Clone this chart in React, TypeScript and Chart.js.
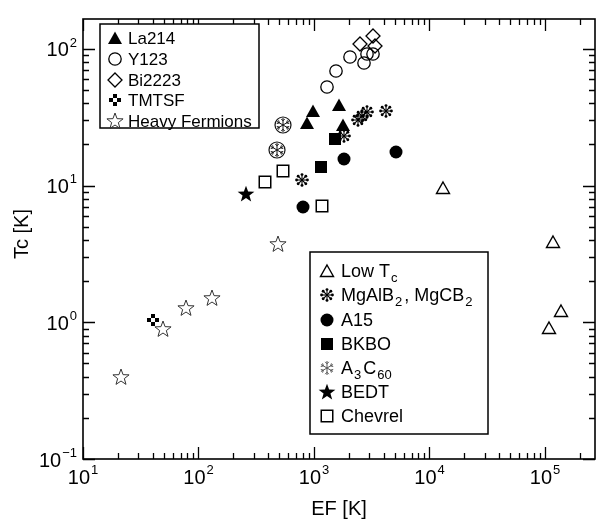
import React, { useEffect, useRef } from "react";
import { Chart, registerables } from "chart.js";

Chart.register(...registerables);

// ---------- data (EF [K], Tc [K]) ----------
const la214EF = [975, 875, 1656, 1772];
const la214Tc = [34.9, 28.7, 38.6, 27.9];

const y123EF = [1288, 1550, 2050, 2710, 2860, 3220];
const y123Tc = [53.1, 69.5, 86.7, 78.6, 91.5, 91.5];

const bi2223EF = [2500, 3220, 3375];
const bi2223Tc = [108.7, 125, 105];

const tmtsfEF = [40.6];
const tmtsfTc = [1.04];

const heavyEF = [21.2, 49, 78, 131.6, 487];
const heavyTc = [0.395, 0.889, 1.28, 1.51, 3.71];

const lowTcEF = [13000, 118000, 137700, 109000];
const lowTcTc = [9.62, 3.86, 1.21, 0.915];

const mgb2EF = [787, 1820, 2404, 2605, 2877, 4200];
const mgb2Tc = [11.06, 23.0, 30.3, 32.4, 34.7, 35.4];

const a15EF = [808, 1820, 5130];
const a15Tc = [7.0, 15.7, 17.7];

const bkboEF = [1150, 1520];
const bkboTc = [13.6, 21.9];

const a3c60EF = [542, 481];
const a3c60Tc = [27.9, 18.3];

const bedtEF = [256];
const bedtTc = [8.74];

const chevrelEF = [376.6, 542, 1173];
const chevrelTc = [10.57, 12.9, 7.06];

const xExponents = [1, 2, 3, 4, 5];
const yExponents = [-1, 0, 1, 2];
const xTitle = "EF [K]";
const yTitle = "Tc [K]";

const FONT = '"Liberation Sans", Arial, Helvetica, sans-serif';

// ---------- marker images ----------
function mk(w: number, h: number, draw: (c: CanvasRenderingContext2D) => void) {
  const cv = document.createElement("canvas");
  cv.width = w;
  cv.height = h;
  const c = cv.getContext("2d")!;
  draw(c);
  return cv;
}

function starPath(c: CanvasRenderingContext2D, cx: number, cy: number, R: number, r: number) {
  c.beginPath();
  for (let i = 0; i < 10; i++) {
    const rad = i % 2 === 0 ? R : r;
    const a = -Math.PI / 2 + (i * Math.PI) / 5;
    const x = cx + rad * Math.cos(a);
    const y = cy + rad * Math.sin(a);
    if (i === 0) c.moveTo(x, y);
    else c.lineTo(x, y);
  }
  c.closePath();
}

function snowflake(c: CanvasRenderingContext2D, cx: number, cy: number, len: number, color: string) {
  c.strokeStyle = color;
  c.lineWidth = 1;
  for (let i = 0; i < 6; i++) {
    const a = -Math.PI / 2 + (i * Math.PI) / 3;
    c.beginPath();
    c.moveTo(cx, cy);
    c.lineTo(cx + len * Math.cos(a), cy + len * Math.sin(a));
    c.stroke();
    const bx = cx + len * 0.6 * Math.cos(a);
    const by = cy + len * 0.6 * Math.sin(a);
    for (const s of [-1, 1]) {
      const b = a + s * 0.75;
      c.beginPath();
      c.moveTo(bx, by);
      c.lineTo(bx + len * 0.38 * Math.cos(b), by + len * 0.38 * Math.sin(b));
      c.stroke();
    }
  }
}

function buildMarkers() {
  const triFilled = mk(16, 16, (c) => {
    c.beginPath();
    c.moveTo(8, 1.5);
    c.lineTo(15, 14);
    c.lineTo(1, 14);
    c.closePath();
    c.fillStyle = "#000";
    c.fill();
  });
  const circleOpen = mk(16, 16, (c) => {
    c.beginPath();
    c.arc(8, 8, 6.2, 0, Math.PI * 2);
    c.lineWidth = 1.3;
    c.strokeStyle = "#000";
    c.stroke();
  });
  const diamondOpen = mk(18, 18, (c) => {
    c.beginPath();
    c.moveTo(9, 2);
    c.lineTo(16, 9);
    c.lineTo(9, 16);
    c.lineTo(2, 9);
    c.closePath();
    c.lineWidth = 1.3;
    c.strokeStyle = "#000";
    c.stroke();
  });
  const tmtsf = mk(14, 14, (c) => {
    c.fillStyle = "#000";
    c.fillRect(5, 1, 4, 4);
    c.fillRect(1, 5, 4, 4);
    c.fillRect(9, 5, 4, 4);
    c.fillRect(5, 9, 4, 4);
    c.fillStyle = "#fff";
    c.fillRect(5, 5, 4, 4);
  });
  const starOpen = mk(20, 20, (c) => {
    starPath(c, 10, 10.5, 8.5, 3.5);
    c.lineWidth = 1;
    c.strokeStyle = "#333";
    c.stroke();
  });
  const triOpen = mk(16, 16, (c) => {
    c.beginPath();
    c.moveTo(8, 2);
    c.lineTo(14.5, 13.5);
    c.lineTo(1.5, 13.5);
    c.closePath();
    c.lineWidth = 1.4;
    c.strokeStyle = "#000";
    c.stroke();
  });
  const snow = mk(16, 16, (c) => {
    c.strokeStyle = "#000";
    c.fillStyle = "#000";
    c.lineWidth = 1.1;
    for (let i = 0; i < 8; i++) {
      const a = (i * Math.PI) / 4;
      c.beginPath();
      c.moveTo(8, 8);
      c.lineTo(8 + 4.5 * Math.cos(a), 8 + 4.5 * Math.sin(a));
      c.stroke();
      c.beginPath();
      c.arc(8 + 5.4 * Math.cos(a), 8 + 5.4 * Math.sin(a), 1.45, 0, Math.PI * 2);
      c.fill();
    }
  });
  const circleFilled = mk(16, 16, (c) => {
    c.beginPath();
    c.arc(8, 8, 6.5, 0, Math.PI * 2);
    c.fillStyle = "#000";
    c.fill();
  });
  const squareFilled = mk(14, 14, (c) => {
    c.fillStyle = "#000";
    c.fillRect(1, 1, 12, 12);
  });
  const a3c60 = mk(20, 20, (c) => {
    c.strokeStyle = "#111";
    c.lineWidth = 1.2;
    c.beginPath();
    c.arc(10, 10, 8, 0, Math.PI * 2);
    c.stroke();
    snowflake(c, 10, 10, 7, "#111");
  });
  const a3c60Legend = mk(18, 18, (c) => {
    snowflake(c, 9, 9, 7, "#555");
  });
  const starFilled = mk(20, 20, (c) => {
    starPath(c, 10, 10.5, 8.8, 3.6);
    c.fillStyle = "#000";
    c.fill();
  });
  const squareOpen = mk(16, 16, (c) => {
    c.strokeStyle = "#000";
    c.lineWidth = 1.5;
    c.strokeRect(2.25, 2.25, 11.5, 11.5);
  });
  return {
    triFilled, circleOpen, diamondOpen, tmtsf, starOpen, triOpen, snow,
    circleFilled, squareFilled, a3c60, a3c60Legend, starFilled, squareOpen,
  };
}

type Part = [string, boolean?];

function pts(xs: number[], ys: number[]) {
  return xs.map((x, i) => ({ x, y: ys[i] }));
}

export default function App() {
  const ref = useRef<HTMLCanvasElement>(null);

  useEffect(() => {
    const canvas = ref.current!;
    const m = buildMarkers();

    const series: { label: string; xs: number[]; ys: number[]; img: HTMLCanvasElement }[] = [
      { label: "La214", xs: la214EF, ys: la214Tc, img: m.triFilled },
      { label: "Y123", xs: y123EF, ys: y123Tc, img: m.circleOpen },
      { label: "Bi2223", xs: bi2223EF, ys: bi2223Tc, img: m.diamondOpen },
      { label: "TMTSF", xs: tmtsfEF, ys: tmtsfTc, img: m.tmtsf },
      { label: "Heavy Fermions", xs: heavyEF, ys: heavyTc, img: m.starOpen },
      { label: "Low Tc", xs: lowTcEF, ys: lowTcTc, img: m.triOpen },
      { label: "MgAlB2, MgCB2", xs: mgb2EF, ys: mgb2Tc, img: m.snow },
      { label: "A15", xs: a15EF, ys: a15Tc, img: m.circleFilled },
      { label: "BKBO", xs: bkboEF, ys: bkboTc, img: m.squareFilled },
      { label: "A3C60", xs: a3c60EF, ys: a3c60Tc, img: m.a3c60 },
      { label: "BEDT", xs: bedtEF, ys: bedtTc, img: m.starFilled },
      { label: "Chevrel", xs: chevrelEF, ys: chevrelTc, img: m.squareOpen },
    ];

    const leftLegend: { parts: Part[]; img: HTMLCanvasElement }[] = [
      { parts: [["La214"]], img: m.triFilled },
      { parts: [["Y123"]], img: m.circleOpen },
      { parts: [["Bi2223"]], img: m.diamondOpen },
      { parts: [["TMTSF"]], img: m.tmtsf },
      { parts: [["Heavy Fermions"]], img: m.starOpen },
    ];
    const rightLegend: { parts: Part[]; img: HTMLCanvasElement }[] = [
      { parts: [["Low T"], ["c", true]], img: m.triOpen },
      { parts: [["MgAlB"], ["2", true], [", MgCB"], ["2", true]], img: m.snow },
      { parts: [["A15"]], img: m.circleFilled },
      { parts: [["BKBO"]], img: m.squareFilled },
      { parts: [["A"], ["3", true], ["C"], ["60", true]], img: m.a3c60Legend },
      { parts: [["BEDT"]], img: m.starFilled },
      { parts: [["Chevrel"]], img: m.squareOpen },
    ];

    const drawRich = (ctx: CanvasRenderingContext2D, parts: Part[], x: number, y: number, size: number) => {
      let cx = x;
      for (const [t, sub] of parts) {
        const fs = sub ? Math.round(size * 0.74) : size;
        ctx.font = `${fs}px ${FONT}`;
        ctx.textBaseline = "middle";
        ctx.textAlign = "left";
        if (sub) cx += 1;
        ctx.fillText(t, cx, sub ? y + size * 0.33 : y);
        cx += ctx.measureText(t).width + (sub ? 2 : 0);
      }
    };

    const drawLegend = (
      ctx: CanvasRenderingContext2D,
      box: [number, number, number, number],
      rows: number[],
      mx: number,
      tx: number,
      items: { parts: Part[]; img: HTMLCanvasElement }[],
      size: number
    ) => {
      ctx.save();
      ctx.fillStyle = "#fff";
      ctx.fillRect(box[0], box[1], box[2] - box[0], box[3] - box[1]);
      ctx.strokeStyle = "#000";
      ctx.lineWidth = 1.5;
      ctx.strokeRect(box[0], box[1], box[2] - box[0], box[3] - box[1]);
      items.forEach((it, i) => {
        const y = rows[i];
        ctx.drawImage(it.img, Math.round(mx - it.img.width / 2), Math.round(y - it.img.height / 2));
        ctx.fillStyle = "#000";
        drawRich(ctx, it.parts, tx, y + 1, size);
      });
      ctx.restore();
    };

    const drawLabel = (ctx: CanvasRenderingContext2D, exp: number, x: number, y: number, align: "center" | "right") => {
      const base = "10";
      const e = exp < 0 ? "\u2212" + Math.abs(exp) : String(exp);
      ctx.font = `20px ${FONT}`;
      const w1 = ctx.measureText(base).width;
      ctx.font = `13px ${FONT}`;
      const w2 = ctx.measureText(e).width;
      const total = w1 + w2 + 1;
      const x0 = align === "center" ? x - total / 2 : x - total;
      ctx.textAlign = "left";
      ctx.textBaseline = "middle";
      ctx.font = `20px ${FONT}`;
      ctx.fillText(base, x0, y);
      ctx.font = `13px ${FONT}`;
      ctx.fillText(e, x0 + w1 + 1, y - 8);
    };

    const markerPlugin = {
      id: "markers",
      afterDatasetsDraw(chart: any) {
        const ctx: CanvasRenderingContext2D = chart.ctx;
        ctx.save();
        series.forEach((s, i) => {
          const meta = chart.getDatasetMeta(i);
          meta.data.forEach((el: any) => {
            ctx.drawImage(s.img, Math.round(el.x - s.img.width / 2), Math.round(el.y - s.img.height / 2));
          });
        });
        ctx.restore();
      },
    };

    const framePlugin = {
      id: "frame",
      afterDraw(chart: any) {
        const ctx: CanvasRenderingContext2D = chart.ctx;
        const xs = chart.scales.x;
        const ys = chart.scales.y;
        const { left, right, top, bottom } = chart.chartArea;
        ctx.save();
        ctx.strokeStyle = "#000";
        ctx.fillStyle = "#000";
        ctx.lineWidth = 1.6;
        ctx.strokeRect(left, top, right - left, bottom - top);

        const major = 12;
        const minor = 6;
        ctx.lineWidth = 1.3;
        for (let k = 1; k <= 5; k++) {
          for (let mm = 1; mm <= 9; mm++) {
            const v = mm * Math.pow(10, k);
            if (v < xs.min || v > xs.max) continue;
            const px = Math.round(xs.getPixelForValue(v)) + 0.5;
            const len = mm === 1 ? major : minor;
            ctx.beginPath();
            ctx.moveTo(px, bottom);
            ctx.lineTo(px, bottom - len);
            ctx.moveTo(px, top);
            ctx.lineTo(px, top + len);
            ctx.stroke();
          }
        }
        for (let k = -1; k <= 2; k++) {
          for (let mm = 1; mm <= 9; mm++) {
            const v = mm * Math.pow(10, k);
            if (v < ys.min || v > ys.max) continue;
            const py = Math.round(ys.getPixelForValue(v)) + 0.5;
            const len = mm === 1 ? major : minor;
            ctx.beginPath();
            ctx.moveTo(left, py);
            ctx.lineTo(left + len, py);
            ctx.moveTo(right, py);
            ctx.lineTo(right - len, py);
            ctx.stroke();
          }
        }
        for (const e of xExponents) {
          const px = xs.getPixelForValue(Math.pow(10, e));
          drawLabel(ctx, e, px, bottom + 19, "center");
        }
        for (const e of yExponents) {
          const py = ys.getPixelForValue(Math.pow(10, e));
          drawLabel(ctx, e, left - 6, py + 2, "right");
        }
        ctx.font = `20px ${FONT}`;
        ctx.textAlign = "center";
        ctx.textBaseline = "middle";
        ctx.fillText(xTitle, (left + right) / 2, 509);
        ctx.save();
        ctx.translate(22, 234);
        ctx.rotate(-Math.PI / 2);
        ctx.fillText(yTitle, 0, 0);
        ctx.restore();

        drawLegend(ctx, [100, 24, 259, 128], [38, 59, 80, 100, 121], 115, 128, leftLegend, 17);
        drawLegend(ctx, [310, 252, 488, 434], [271, 295, 320, 344, 368, 392, 416], 327, 341, rightLegend, 18);
        ctx.restore();
      },
    };

    const chart = new Chart(canvas, {
      type: "scatter",
      data: {
        datasets: series.map((s) => ({
          label: s.label,
          data: pts(s.xs, s.ys),
          pointStyle: s.img as any,
          pointRadius: 0,
          pointHoverRadius: 0,
          showLine: false,
        })),
      },
      options: {
        animation: false,
        responsive: false,
        events: [],
        layout: { padding: { left: 83, top: 19, right: 1, bottom: 62 } },
        scales: {
          x: { type: "logarithmic", min: 10, max: 271000, display: false },
          y: { type: "logarithmic", min: 0.1, max: 165.6, display: false },
        },
        plugins: {
          legend: { display: false },
          tooltip: { enabled: false },
        },
      },
      plugins: [markerPlugin, framePlugin],
    });

    return () => chart.destroy();
  }, []);

  return (
    <div style={{ position: "absolute", left: 0, top: 0, width: 596, height: 521, background: "#fff" }}>
      <canvas ref={ref} width={596} height={521} style={{ display: "block" }} />
    </div>
  );
}
